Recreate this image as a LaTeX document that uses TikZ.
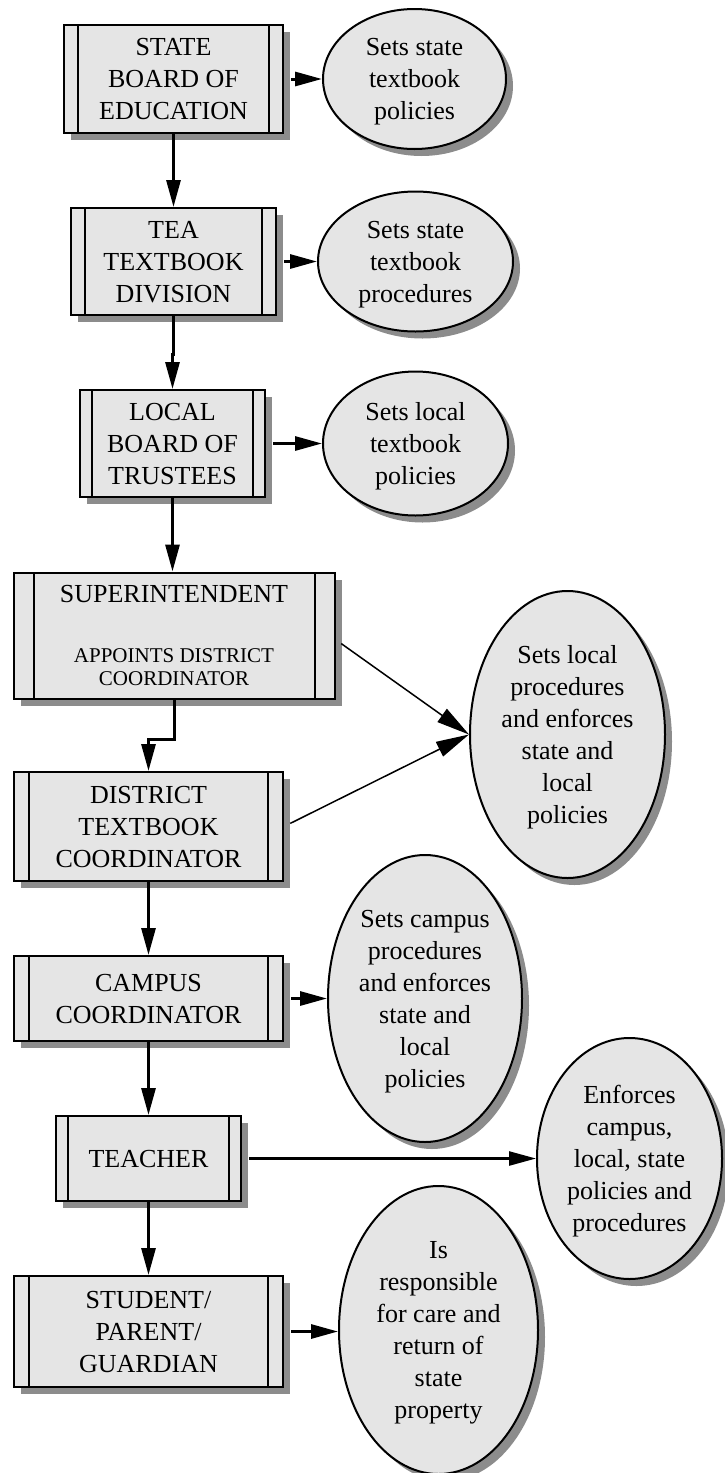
\documentclass[tikz,border=0pt]{standalone}
\usepackage{fontspec}
\setmainfont{Liberation Serif}
\usetikzlibrary{arrows.meta,shadows,shapes.geometric}
\definecolor{boxfill}{gray}{0.9}
\definecolor{shadowgray}{gray}{0.55}
\newcommand\subtxt{\fontsize{21}{24}\selectfont}
\begin{document}
\begin{tikzpicture}[x=1pt,y=-1pt,
		procbox/.style={draw,line width=2pt,fill=boxfill,inner sep=0pt,align=center,
			font=\fontsize{26}{32}\selectfont,text depth=-6pt,
			drop shadow={shadow xshift=7pt,shadow yshift=-7pt,fill=shadowgray,opacity=1},
			path picture={\draw[line width=2pt]
				([xshift=#1]path picture bounding box.north west) -- ([xshift=#1]path picture bounding box.south west)
				([xshift=-#1]path picture bounding box.north east) -- ([xshift=-#1]path picture bounding box.south east);}},
		procbox/.default=14pt,
		duty/.style={ellipse,draw,line width=2pt,fill=boxfill,inner sep=0pt,align=center,
			font=\fontsize{26}{32}\selectfont,text depth=-8pt,
			drop shadow={shadow xshift=7pt,shadow yshift=-7pt,fill=shadowgray,opacity=1}},
		flow/.style={line width=3pt,-{Triangle[length=27pt,width=14pt]}},
		slant/.style={flow,line width=1.5pt,shorten <=7pt,-{Triangle[length=33pt,width=16pt]}}]
	\useasboundingbox (0,0) rectangle (724,1473);
	% boxes
	\node[procbox,minimum width=219pt,minimum height=108pt] (b1) at (173.5,79) {STATE\\BOARD OF\\EDUCATION};
	\node[procbox,minimum width=205pt,minimum height=107pt] (b2) at (173.5,261.5) {TEA\\TEXTBOOK\\DIVISION};
	\node[procbox=12pt,minimum width=185pt,minimum height=107pt] (b3) at (172.5,443.5) {LOCAL\\BOARD OF\\TRUSTEES};
	\node[procbox=20pt,minimum width=321pt,minimum height=126pt] (b4) at (174,635.5)
		{SUPERINTENDENT\\[28pt]{\subtxt APPOINTS DISTRICT}\\[-9pt]{\subtxt COORDINATOR}};
	\node[procbox=15pt,minimum width=269pt,minimum height=109pt] (b5) at (148.5,826.5) {DISTRICT\\TEXTBOOK\\COORDINATOR};
	\node[procbox=15pt,minimum width=269pt,minimum height=85pt] (b6) at (148.5,998.5) {CAMPUS\\COORDINATOR};
	\node[procbox=12pt,minimum width=185pt,minimum height=85pt] (b7) at (148.5,1158.5) {TEACHER};
	\node[procbox=15pt,minimum width=269pt,minimum height=111pt] (b8) at (148.5,1331.5) {STUDENT/\\PARENT/\\GUARDIAN};
	% ellipses
	\node[duty,minimum width=183pt,minimum height=140pt] (e1) at (414.5,79) {Sets state\\textbook\\policies};
	\node[duty,minimum width=195pt,minimum height=140pt] (e2) at (415.5,261.5) {Sets state\\textbook\\procedures};
	\node[duty,minimum width=185pt,minimum height=144pt] (e3) at (415.5,443.5) {Sets local\\textbook\\policies};
	\node[duty,minimum width=195pt,minimum height=287pt] (e4) at (567.5,734.5)
		{Sets local\\procedures\\and enforces\\state and\\local\\policies};
	\node[duty,minimum width=194pt,minimum height=287pt] (e6) at (425,998.5)
		{Sets campus\\procedures\\and enforces\\state and\\local\\policies};
	\node[duty,minimum width=185pt,minimum height=241pt] (e7) at (629.5,1158.5)
		{Enforces\\campus,\\local, state\\policies and\\procedures};
	\node[duty,minimum width=199pt,minimum height=288pt] (e8) at (438.5,1330)
		{Is\\responsible\\for care and\\return of\\state\\property};
	% connectors
	\foreach \a/\b in {b1/b2,b5/b6,b6/b7,b7/b8}
		\draw[flow] (\a) -- (\b);
	\draw[flow] (b2.south) -- ++(0,38) -| (b3.north);
	\draw[flow] (b3.south) -- (b3.south |- b4.north);
	\draw[flow] (b4.south) -- ++(0,40) -| (b5.north);
	\foreach \a/\b in {b1/e1,b2/e2,b3/e3,b6/e6,b8/e8}
		\draw[flow,shorten <=7pt] (\a.east) -- (\a.east -| \b.west);
	\draw[flow,line width=2.5pt,shorten <=7pt] (b7.east) -- (e7.west);
	\draw[slant] ([yshift=-4pt]b4.east) -- (e4.west);
	\draw[slant] (b5.east) -- (e4.west);
\end{tikzpicture}
\end{document}
